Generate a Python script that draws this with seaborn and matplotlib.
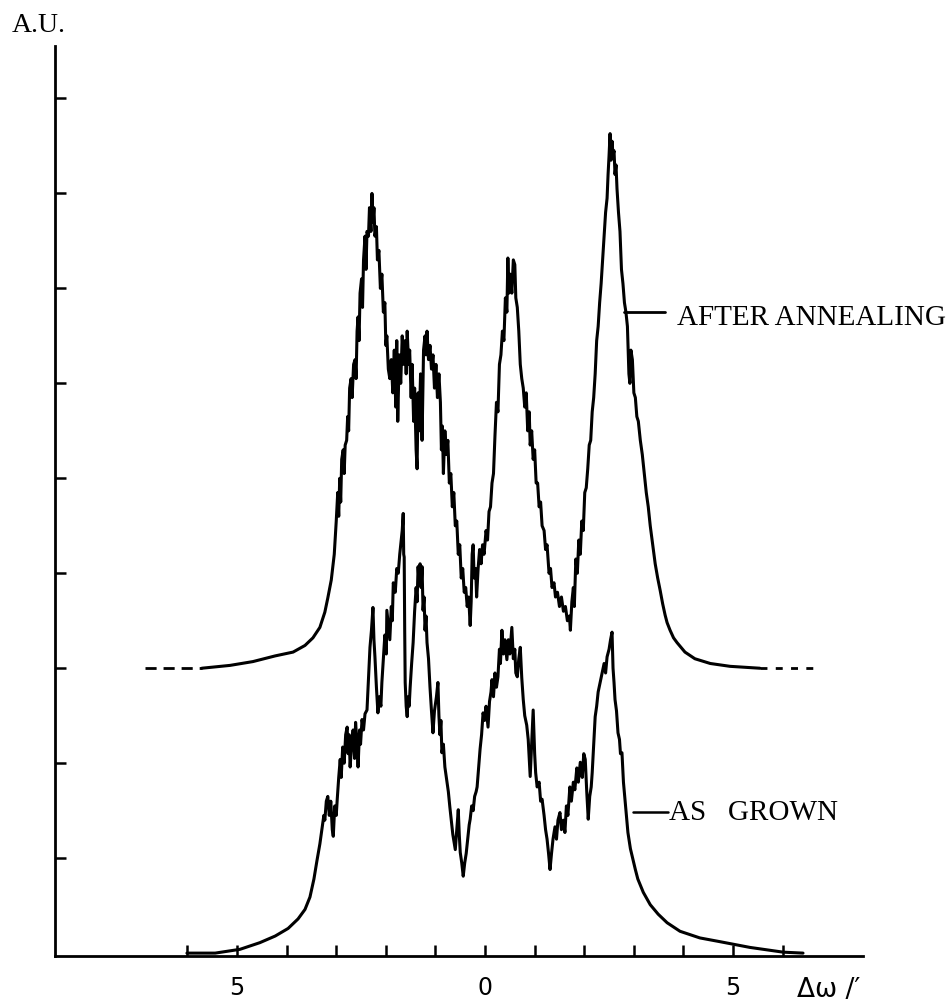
import numpy as np
import pandas as pd
import matplotlib
matplotlib.use("Agg")
import matplotlib.pyplot as plt
import seaborn as sns

# rocking curves (x in minutes of arc, y in A.U.)
annealed_x = [-5.71, -5.14, -4.68, -4.23, -3.87, -3.63, -3.47, -3.33, -3.23, -3.17, -3.10, -3.04,
              -3.00, -2.97, -2.95, -2.93, -2.91, -2.89, -2.86, -2.84, -2.82, -2.79, -2.77, -2.75,
              -2.73, -2.70, -2.68, -2.65, -2.62, -2.60, -2.58, -2.56, -2.54, -2.52, -2.49, -2.47,
              -2.45, -2.42, -2.40, -2.38, -2.35, -2.33, -2.30, -2.28, -2.26, -2.24, -2.22, -2.19,
              -2.17, -2.14, -2.11, -2.08, -2.05, -2.02, -2.00, -1.98, -1.95, -1.92, -1.89, -1.86,
              -1.83, -1.80, -1.78, -1.76, -1.73, -1.70, -1.67, -1.64, -1.61, -1.59, -1.57, -1.54,
              -1.52, -1.49, -1.47, -1.44, -1.42, -1.39, -1.37, -1.35, -1.33, -1.30, -1.27, -1.24,
              -1.21, -1.19, -1.17, -1.14, -1.11, -1.08, -1.05, -1.02, -0.99, -0.96, -0.93, -0.90,
              -0.88, -0.86, -0.84, -0.81, -0.78, -0.75, -0.72, -0.69, -0.66, -0.63, -0.60, -0.57,
              -0.54, -0.51, -0.48, -0.45, -0.42, -0.39, -0.36, -0.33, -0.30, -0.28, -0.26, -0.24,
              -0.22, -0.19, -0.17, -0.14, -0.11, -0.08, -0.05, -0.02, 0.02, 0.05, 0.08, 0.11,
              0.14, 0.17, 0.20, 0.23, 0.26, 0.29, 0.32, 0.35, 0.38, 0.41, 0.44, 0.46,
              0.48, 0.51, 0.54, 0.57, 0.60, 0.62, 0.65, 0.68, 0.71, 0.74, 0.77, 0.80,
              0.83, 0.86, 0.89, 0.91, 0.94, 0.97, 1.00, 1.03, 1.06, 1.09, 1.12, 1.15,
              1.19, 1.22, 1.25, 1.29, 1.32, 1.35, 1.39, 1.42, 1.46, 1.50, 1.54, 1.58,
              1.62, 1.66, 1.70, 1.72, 1.75, 1.78, 1.80, 1.83, 1.86, 1.89, 1.92, 1.95,
              1.98, 2.01, 2.04, 2.07, 2.10, 2.13, 2.16, 2.19, 2.22, 2.25, 2.28, 2.31,
              2.34, 2.37, 2.40, 2.43, 2.46, 2.48, 2.50, 2.52, 2.54, 2.56, 2.58, 2.60,
              2.62, 2.64, 2.66, 2.69, 2.72, 2.75, 2.78, 2.81, 2.84, 2.87, 2.90, 2.92,
              2.94, 2.97, 3.00, 3.03, 3.06, 3.09, 3.13, 3.17, 3.21, 3.25, 3.29, 3.33,
              3.38, 3.43, 3.48, 3.53, 3.58, 3.63, 3.67, 3.73, 3.80, 3.87, 4.03, 4.23,
              4.54, 4.94, 5.54]
annealed_y = [3.00, 3.03, 3.07, 3.13, 3.17, 3.24, 3.32, 3.43, 3.59, 3.74, 3.93, 4.20,
              4.55, 4.85, 4.60, 5.00, 4.75, 5.20, 5.30, 5.05, 5.35, 5.40, 5.65, 5.50,
              5.95, 6.05, 5.85, 6.20, 6.25, 6.05, 6.55, 6.70, 6.45, 6.95, 7.10, 6.80,
              7.30, 7.55, 7.20, 7.60, 7.55, 7.85, 7.60, 8.00, 7.70, 7.85, 7.55, 7.65,
              7.30, 7.40, 7.00, 7.15, 6.75, 6.85, 6.40, 6.50, 6.15, 6.05, 6.25, 5.90,
              6.35, 5.75, 6.45, 5.60, 6.30, 6.00, 6.50, 6.20, 6.45, 6.10, 6.55, 6.20,
              6.35, 5.85, 6.20, 5.60, 5.95, 5.30, 5.10, 5.90, 5.50, 6.10, 5.40, 6.35,
              6.50, 6.30, 6.55, 6.25, 6.40, 6.15, 6.30, 5.95, 6.20, 5.85, 6.10, 5.80,
              5.30, 5.55, 5.05, 5.50, 5.25, 5.40, 4.95, 5.05, 4.70, 4.85, 4.50, 4.55,
              4.20, 4.30, 3.95, 4.05, 3.80, 3.85, 3.65, 3.75, 3.45, 3.70, 4.20, 4.30,
              3.95, 4.05, 3.75, 4.05, 4.25, 4.10, 4.30, 4.20, 4.45, 4.35, 4.65, 4.70,
              4.95, 5.05, 5.45, 5.80, 5.70, 6.20, 6.30, 6.55, 6.45, 6.90, 6.75, 7.32,
              6.95, 7.15, 6.95, 7.30, 7.25, 6.90, 6.80, 6.55, 6.20, 6.05, 5.95, 5.75,
              5.90, 5.50, 5.70, 5.35, 5.50, 5.20, 5.30, 4.95, 4.95, 4.70, 4.75, 4.50,
              4.45, 4.25, 4.30, 4.00, 4.05, 3.85, 3.90, 3.75, 3.80, 3.65, 3.75, 3.60,
              3.65, 3.50, 3.55, 3.40, 3.70, 3.85, 3.65, 4.15, 4.00, 4.35, 4.20, 4.55,
              4.45, 4.85, 4.90, 5.10, 5.35, 5.40, 5.70, 5.85, 6.10, 6.45, 6.60, 6.85,
              7.05, 7.30, 7.55, 7.80, 7.95, 8.20, 8.40, 8.63, 8.35, 8.55, 8.40, 8.45,
              8.20, 8.30, 8.05, 7.80, 7.60, 7.20, 7.05, 6.85, 6.75, 6.60, 6.10, 6.00,
              6.35, 6.25, 5.90, 5.85, 5.65, 5.60, 5.40, 5.25, 5.05, 4.85, 4.70, 4.50,
              4.30, 4.10, 3.95, 3.82, 3.68, 3.56, 3.48, 3.40, 3.32, 3.27, 3.17, 3.10,
              3.05, 3.02, 3.00]

grown_x = [-6.01, -5.44, -4.94, -4.54, -4.23, -3.97, -3.77, -3.63, -3.53, -3.45, -3.39, -3.33,
           -3.29, -3.25, -3.23, -3.20, -3.17, -3.14, -3.11, -3.08, -3.06, -3.03, -3.00, -2.98,
           -2.95, -2.92, -2.90, -2.87, -2.84, -2.81, -2.78, -2.76, -2.74, -2.72, -2.69, -2.66,
           -2.63, -2.61, -2.58, -2.56, -2.53, -2.51, -2.48, -2.45, -2.42, -2.38, -2.35, -2.32,
           -2.29, -2.26, -2.24, -2.22, -2.19, -2.16, -2.13, -2.10, -2.08, -2.05, -2.02, -1.99,
           -1.98, -1.95, -1.92, -1.89, -1.87, -1.85, -1.81, -1.78, -1.75, -1.72, -1.69, -1.67,
           -1.65, -1.64, -1.63, -1.62, -1.61, -1.59, -1.57, -1.55, -1.53, -1.51, -1.48, -1.45,
           -1.42, -1.39, -1.37, -1.35, -1.33, -1.31, -1.29, -1.27, -1.25, -1.23, -1.21, -1.19,
           -1.17, -1.14, -1.11, -1.08, -1.05, -1.02, -0.98, -0.95, -0.93, -0.91, -0.89, -0.87,
           -0.84, -0.81, -0.78, -0.74, -0.71, -0.68, -0.65, -0.62, -0.60, -0.57, -0.54, -0.52,
           -0.50, -0.47, -0.44, -0.41, -0.38, -0.35, -0.32, -0.30, -0.27, -0.24, -0.21, -0.18,
           -0.16, -0.13, -0.10, -0.07, -0.04, -0.01, 0.02, 0.06, 0.09, 0.12, 0.14, 0.17,
           0.20, 0.23, 0.26, 0.29, 0.31, 0.34, 0.37, 0.40, 0.44, 0.47, 0.50, 0.54,
           0.57, 0.60, 0.62, 0.65, 0.68, 0.71, 0.74, 0.77, 0.80, 0.84, 0.87, 0.89,
           0.91, 0.94, 0.97, 1.00, 1.02, 1.05, 1.09, 1.12, 1.15, 1.19, 1.22, 1.25,
           1.28, 1.31, 1.34, 1.37, 1.41, 1.44, 1.47, 1.51, 1.54, 1.58, 1.61, 1.64,
           1.67, 1.71, 1.74, 1.78, 1.81, 1.85, 1.88, 1.92, 1.96, 1.99, 2.02, 2.05,
           2.08, 2.11, 2.14, 2.16, 2.19, 2.22, 2.25, 2.28, 2.32, 2.36, 2.40, 2.43,
           2.46, 2.50, 2.53, 2.56, 2.58, 2.60, 2.62, 2.65, 2.68, 2.71, 2.73, 2.76,
           2.79, 2.82, 2.85, 2.88, 2.93, 2.98, 3.03, 3.08, 3.19, 3.33, 3.49, 3.67,
           3.93, 4.33, 4.74, 5.34, 6.01, 6.41]
grown_y = [0.00, 0.00, 0.04, 0.11, 0.18, 0.26, 0.36, 0.46, 0.59, 0.78, 0.97, 1.15,
           1.30, 1.45, 1.40, 1.60, 1.65, 1.45, 1.60, 1.30, 1.23, 1.55, 1.45, 1.62,
           1.85, 2.04, 1.85, 2.17, 2.00, 2.30, 2.38, 2.10, 2.30, 1.96, 2.20, 2.35,
           2.05, 2.43, 2.20, 1.96, 2.35, 2.20, 2.46, 2.35, 2.52, 2.56, 2.90, 3.22,
           3.40, 3.64, 3.30, 3.12, 2.80, 2.53, 2.70, 2.60, 2.85, 3.10, 3.35, 3.15,
           3.61, 3.45, 3.30, 3.65, 3.50, 3.90, 3.80, 4.05, 4.00, 4.20, 4.35, 4.45,
           4.63, 4.20, 4.17, 3.40, 2.85, 2.60, 2.49, 2.70, 2.60, 2.80, 3.05, 3.27,
           3.60, 3.85, 3.70, 4.07, 3.90, 4.10, 3.85, 4.07, 3.61, 3.75, 3.40, 3.55,
           3.27, 3.10, 2.80, 2.55, 2.32, 2.55, 2.70, 2.85, 2.50, 2.30, 2.45, 2.11,
           2.20, 1.96, 1.85, 1.70, 1.54, 1.40, 1.25, 1.15, 1.09, 1.30, 1.51, 1.25,
           1.06, 0.95, 0.81, 0.95, 1.05, 1.20, 1.35, 1.41, 1.55, 1.50, 1.65, 1.70,
           1.75, 1.95, 2.15, 2.30, 2.53, 2.45, 2.60, 2.38, 2.65, 2.75, 2.88, 2.70,
           2.95, 2.80, 2.91, 3.20, 3.05, 3.40, 3.15, 3.30, 3.09, 3.30, 3.15, 3.43,
           3.10, 3.20, 2.95, 2.91, 3.10, 3.22, 2.90, 2.67, 2.50, 2.40, 2.25, 2.05,
           1.86, 2.20, 2.56, 2.10, 1.90, 1.75, 1.80, 1.60, 1.62, 1.45, 1.30, 1.20,
           1.05, 0.88, 1.05, 1.20, 1.33, 1.20, 1.40, 1.48, 1.30, 1.40, 1.27, 1.55,
           1.45, 1.75, 1.60, 1.80, 1.72, 1.95, 1.80, 2.01, 1.85, 2.10, 2.04, 1.70,
           1.41, 1.65, 1.75, 1.90, 2.20, 2.49, 2.60, 2.75, 2.85, 2.95, 3.05, 2.95,
           3.12, 3.20, 3.30, 3.38, 3.00, 2.85, 2.67, 2.55, 2.32, 2.25, 2.10, 2.11,
           1.80, 1.62, 1.45, 1.27, 1.10, 0.99, 0.88, 0.78, 0.64, 0.51, 0.41, 0.32,
           0.23, 0.16, 0.12, 0.06, 0.01, 0.00]

base_left_x = [-6.85, -5.71]
base_right_x = [5.54, 6.65]
base_level = 3.0

x_ticks = list(range(-6, 7))
x_ticklabels = ["5" if abs(t) == 5 else ("0" if t == 0 else "") for t in x_ticks]
y_ticks = list(range(1, 10))

sns.set_theme(style="white", rc={"xtick.bottom": True, "ytick.left": True,
                                 "text.color": "black", "xtick.color": "black",
                                 "ytick.color": "black"})
plt.rcParams['font.family'] = ['DejaVu Sans']

fig = plt.figure(figsize=(9.53, 10.03), dpi=100)
ax = fig.add_axes([0.0577, 0.0459, 0.8479, 0.907])

df_a = pd.DataFrame({"x": annealed_x, "y": annealed_y})
df_g = pd.DataFrame({"x": grown_x, "y": grown_y})
sns.lineplot(data=df_a, x="x", y="y", sort=False, estimator=None, color="black", lw=2.2, ax=ax)
sns.lineplot(data=df_g, x="x", y="y", sort=False, estimator=None, color="black", lw=2.2, ax=ax)

ax.plot(base_left_x, [base_level] * 2, color="black", lw=2, ls=(0, (4, 2.5)))
ax.plot(base_right_x, [base_level] * 2, color="black", lw=2, ls=(0, (2.5, 3)))

ax.set_xlim(-8.67, 7.62)
ax.set_ylim(-0.03, 9.55)
ax.set_xticks(x_ticks)
ax.set_xticklabels(x_ticklabels, fontsize=17)
ax.set_yticks(y_ticks)
ax.set_yticklabels([])
ax.tick_params(axis="both", direction="in", length=8, width=1.8, color="black")
ax.tick_params(axis="x", pad=14)
for s in ["top", "right"]:
    ax.spines[s].set_visible(False)
for s in ["left", "bottom"]:
    ax.spines[s].set_color("black")
    ax.spines[s].set_linewidth(2)
ax.set_xlabel("")
ax.set_ylabel("")

serif = ["Liberation Serif", "DejaVu Serif"]
# label leaders
ax.plot([2.80, 3.63], [6.75, 6.75], color="black", lw=2)
ax.text(3.86, 6.70, "AFTER ANNEALING", fontsize=21, family=serif, va="center", ha="left")
ax.plot([2.98, 3.68], [1.49, 1.49], color="black", lw=1.8)
ax.text(3.70, 1.49, "AS   GROWN", fontsize=21, family=serif, va="center", ha="left")

fig.text(12 / 953, 1 - 25 / 1003, "A.U.", fontsize=20, family=serif, va="center", ha="left")
fig.text(829 / 953, 1 - 990 / 1003, "Δω /′", fontsize=19, va="center", ha="center")

fig.savefig("out.png", dpi=100, facecolor="white")
